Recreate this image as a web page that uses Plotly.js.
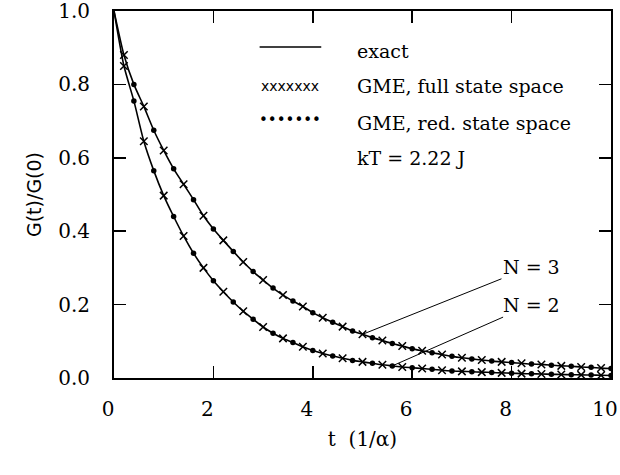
<!DOCTYPE html>
<html>
<head>
<meta charset="utf-8">
<script src="https://cdn.plot.ly/plotly-3.0.1.min.js"></script>
<style>
  html, body { margin: 0; padding: 0; background: #fff; }
  #chart { width: 620px; height: 475px; }
</style>
</head>
<body>
<div id="chart"></div>
<script>
// ---- data ----
const t = [0, 0.2, 0.4, 0.6, 0.8, 1.0, 1.2, 1.4, 1.6, 1.8,
           2.0, 2.2, 2.4, 2.6, 2.8, 3.0, 3.2, 3.4, 3.6, 3.8,
           4.0, 4.2, 4.4, 4.6, 4.8, 5.0, 5.2, 5.4, 5.6, 5.8,
           6.0, 6.2, 6.4, 6.6, 6.8, 7.0, 7.2, 7.4, 7.6, 7.8,
           8.0, 8.2, 8.4, 8.6, 8.8, 9.0, 9.2, 9.4, 9.6, 9.8, 10.0];

// N = 3 (upper curve)
const gN3 = [1.000, 0.880, 0.800, 0.740, 0.675, 0.620, 0.570, 0.528, 0.486, 0.442,
             0.406, 0.375, 0.345, 0.316, 0.290, 0.267, 0.245, 0.226, 0.210, 0.195,
             0.178, 0.164, 0.152, 0.140, 0.128, 0.119, 0.110, 0.102, 0.094, 0.087,
             0.080, 0.074, 0.069, 0.064, 0.059, 0.055, 0.052, 0.049, 0.046, 0.044,
             0.042, 0.040, 0.038, 0.037, 0.035, 0.033, 0.032, 0.030, 0.029, 0.027, 0.026];

// N = 2 (lower curve)
const gN2 = [1.000, 0.850, 0.755, 0.645, 0.565, 0.497, 0.440, 0.387, 0.340, 0.300,
             0.265, 0.235, 0.207, 0.182, 0.160, 0.139, 0.122, 0.108, 0.097, 0.085,
             0.075, 0.067, 0.060, 0.054, 0.048, 0.044, 0.040, 0.036, 0.033, 0.030,
             0.028, 0.026, 0.024, 0.021, 0.019, 0.018, 0.017, 0.016, 0.015, 0.014,
             0.013, 0.012, 0.0115, 0.011, 0.010, 0.0095, 0.009, 0.0085, 0.008, 0.0075, 0.007];

const xTicks = [0, 2, 4, 6, 8, 10];
const yTicks = [0.0, 0.2, 0.4, 0.6, 0.8, 1.0];
const legendLabels = ['exact', 'GME, full state space', 'GME, red. state space'];
const paramLabel = 'kT = 2.22 J';
const curveLabels = ['N = 3', 'N = 2'];
const curveLabelIdx = [25, 28];   // sample index where each leader line meets its curve

// ---- build traces ----
function pick(arr, odd) {
  return arr.filter((v, i) => i > 0 && (i % 2 === 1) === odd);
}
const serif = 'DejaVu Serif, Liberation Serif, serif';
const traces = [];
[gN3, gN2].forEach(g => {
  traces.push({
    x: t, y: g, mode: 'lines', type: 'scatter', showlegend: false,
    line: {color: '#000', width: 1.6, shape: 'spline', smoothing: 0.6},
    hoverinfo: 'skip'
  });
  traces.push({
    x: pick(t, true), y: pick(g, true), mode: 'markers', type: 'scatter', showlegend: false,
    marker: {symbol: 'x-thin-open', size: 7.5, color: '#000', line: {color: '#000', width: 1.5}}
  });
  traces.push({
    x: pick(t, false), y: pick(g, false), mode: 'markers', type: 'scatter', showlegend: false,
    marker: {symbol: 'circle', size: 5.5, color: '#000'}
  });
});

const annotations = [];
// legend rows (symbols + text)
annotations.push({x: 3.55, y: 0.797, xref: 'x', yref: 'y', text: 'xxxxxxx', showarrow: false,
  font: {family: 'DejaVu Sans, sans-serif', size: 14, color: '#000'}});
annotations.push({x: 3.55, y: 0.703, xref: 'x', yref: 'y', text: '\u2022\u2022\u2022\u2022\u2022\u2022\u2022', showarrow: false,
  font: {family: 'DejaVu Sans, sans-serif', size: 15, color: '#000'}});
const legY = [0.89, 0.795, 0.695];
legendLabels.forEach((s, i) => {
  annotations.push({x: 4.84, y: legY[i], xref: 'x', yref: 'y', xanchor: 'left', text: s,
    showarrow: false, font: {family: serif, size: 19, color: '#000'}});
});
annotations.push({x: 4.84, y: 0.6, xref: 'x', yref: 'y', xanchor: 'left', text: paramLabel,
  showarrow: false, font: {family: serif, size: 19, color: '#000'}});
// curve labels with leader lines
const curves = [gN3, gN2];
const labelPos = [[8.4, 0.303], [8.4, 0.2]];
curveLabels.forEach((s, i) => {
  const k = curveLabelIdx[i];
  annotations.push({
    x: t[k], y: curves[i][k], xref: 'x', yref: 'y',
    ax: labelPos[i][0], ay: labelPos[i][1], axref: 'x', ayref: 'y',
    text: s, showarrow: true, arrowhead: 0, arrowwidth: 1, arrowcolor: '#000',
    standoff: 0, startstandoff: 0,
    font: {family: serif, size: 19, color: '#000'}
  });
});

const layout = {
  width: 620, height: 475,
  margin: {l: 114, r: 9, t: 11, b: 97},
  paper_bgcolor: '#fff', plot_bgcolor: '#fff',
  showlegend: false,
  xaxis: {
    range: [0, 10], tickvals: xTicks, ticktext: xTicks.map(String),
    ticks: 'inside', ticklen: 12, tickwidth: 1.5, tickcolor: '#000',
    showline: true, linewidth: 2, linecolor: '#000', mirror: 'ticks',
    showgrid: false, zeroline: false, ticklabelstandoff: 12, ticklabeloverflow: 'allow',
    ticklabelshift: -6,
    tickfont: {family: serif, size: 20, color: '#000'},
    title: {text: 't\u00a0\u00a0(1/\u03b1)', font: {family: serif, size: 20, color: '#000'}, standoff: 12}
  },
  yaxis: {
    range: [0, 1], tickvals: yTicks, ticktext: yTicks.map(v => v.toFixed(1)),
    ticks: 'inside', ticklen: 12, tickwidth: 1.5, tickcolor: '#000',
    showline: true, linewidth: 2, linecolor: '#000', mirror: 'ticks',
    showgrid: false, zeroline: false, ticklabelstandoff: 18, ticklabeloverflow: 'allow',
    tickfont: {family: serif, size: 20, color: '#000'},
    title: {text: '\u00a0\u00a0\u00a0\u00a0\u00a0\u00a0\u00a0\u00a0\u00a0\u00a0\u00a0G(t)/G(0)', font: {family: 'DejaVu Sans, sans-serif', size: 19, color: '#000'}, standoff: 12}
  },
  shapes: [
    {type: 'line', xref: 'x', yref: 'y', x0: 2.93, x1: 4.17, y0: 0.902, y1: 0.902,
     line: {color: '#000', width: 1.5}}
  ],
  annotations: annotations
};

Plotly.newPlot('chart', traces, layout, {staticPlot: true, displayModeBar: false});
</script>
</body>
</html>
